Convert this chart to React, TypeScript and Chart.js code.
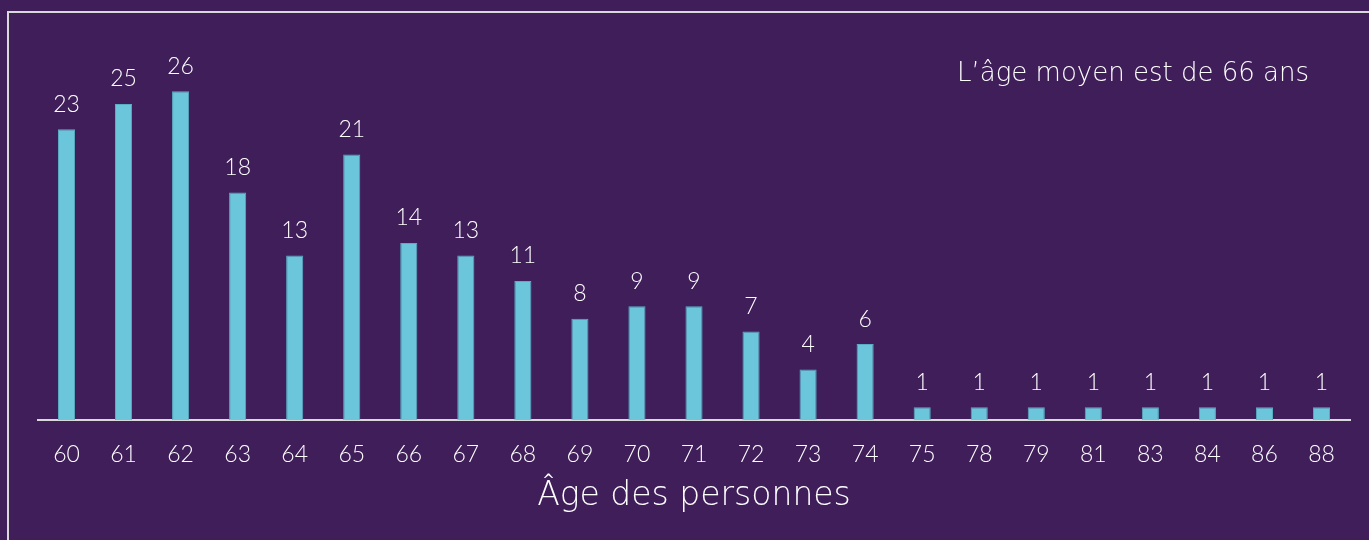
import React, { useEffect, useRef } from "react";
import { Chart, registerables } from "chart.js";

Chart.register(...registerables);

const ages = ["60","61","62","63","64","65","66","67","68","69","70","71","72","73","74","75","78","79","81","83","84","86","88"];
const counts = [23,25,26,18,13,21,14,13,11,8,9,9,7,4,6,1,1,1,1,1,1,1,1];
const axisTitle = "Âge des personnes";
const note = "L’âge moyen est de 66 ans";

const FONT = "Lato, 'Open Sans', sans-serif";
const WIDE = "'DejaVu Sans', sans-serif";
const BG = "#3f1e5a";

export default function App() {
  const ref = useRef<HTMLCanvasElement | null>(null);
  useEffect(() => {
    if (!ref.current) return;
    const labelsPlugin = {
      id: "valueLabels",
      afterDatasetsDraw(chart: any) {
        const ctx = chart.ctx;
        const meta = chart.getDatasetMeta(0);
        ctx.save();
        ctx.fillStyle = "#ffffff";
        ctx.font = `300 23px ${FONT}`;
        ctx.textAlign = "center";
        ctx.textBaseline = "middle";
        meta.data.forEach((bar: any, i: number) => {
          ctx.fillText(String(counts[i]), bar.x, bar.y - 25);
        });
        ctx.font = `200 26px ${WIDE}`;
        ctx.textAlign = "center";
        ctx.fillText(note, 1133, 74);
        ctx.restore();
      },
    };
    const chart = new Chart(ref.current, {
      type: "bar",
      data: {
        labels: ages,
        datasets: [
          {
            data: counts,
            backgroundColor: "#6cc6db",
            borderColor: "#5aaec4",
            borderWidth: 1,
            categoryPercentage: 1,
            barPercentage: 0.3,
          },
        ],
      },
      options: {
        animation: false,
        responsive: false,
        maintainAspectRatio: false,
        layout: { padding: { left: 38, right: 19, top: 66, bottom: 24 } },
        plugins: { legend: { display: false }, tooltip: { enabled: false } },
        scales: {
          y: { display: false, min: 0, max: 28 },
          x: {
            grid: { display: false, drawTicks: false },
            border: { display: true, color: "#d9d9d9", width: 2 },
            ticks: { color: "#ffffff", font: { family: FONT, size: 23, weight: "300" as any, lineHeight: 1.15 }, padding: 21 },
            title: {
              display: true,
              text: axisTitle,
              color: "#ffffff",
              font: { family: WIDE, size: 33, weight: "200" as any },
              padding: { top: -12, bottom: 0 },
            },
          },
        },
      },
      plugins: [labelsPlugin],
    });
    return () => chart.destroy();
  }, []);
  return (
    <div style={{ position: "fixed", left: 0, top: 0, width: 1369, height: 540, background: BG, overflow: "hidden" }}>
      <div style={{ position: "absolute", left: 7, top: 11, width: 1400, height: 600, border: "2px solid #d9d9d9" }} />
      <canvas ref={ref} width={1369} height={540} style={{ position: "absolute", left: 0, top: 0 }} />
    </div>
  );
}
